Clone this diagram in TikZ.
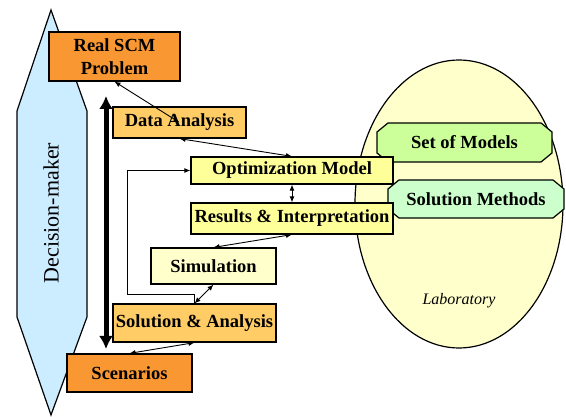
\documentclass[tikz,border=0pt]{standalone}
\usepackage{fontspec}
\setmainfont{Liberation Serif}
\usetikzlibrary{arrows.meta}
\definecolor{SCMorange}{RGB}{249,152,51}
\definecolor{SCMlorange}{RGB}{255,204,102}
\definecolor{SCMyellow}{RGB}{255,255,153}
\definecolor{SCMpale}{RGB}{255,255,204}
\definecolor{SCMblue}{RGB}{204,236,255}
\definecolor{SCMgreen}{RGB}{204,255,153}
\definecolor{SCMlgreen}{RGB}{204,255,204}
\tikzstyle{SCMbox}=[draw=black, line width=1.2pt, inner sep=0pt, align=center,
    font=\fontsize{18.5}{23}\selectfont\bfseries]
\tikzstyle{SCMshape}=[draw=black, line width=1.2pt]
\tikzstyle{SCMlink}=[{Latex[length=6pt,width=5pt]}-{Latex[length=6pt,width=5pt]}, line width=0.9pt]

\begin{document}
\begin{tikzpicture}[x=1pt, y=-1pt]
    \useasboundingbox (0,0) rectangle (566,417);
    % the decision-maker beside the whole process
    \path [SCMshape, fill=SCMblue]
        (51,10) -- (87,111) -- (87,317) -- (51,415) -- (17,317) -- (17,111) -- cycle;
    \node (dm) [rotate=90, font=\fontsize{22}{24}\selectfont] at (51,213) {Decision-maker};
    % laboratory with its tools
    \path [SCMshape, fill=SCMpale] (459,204) ellipse [x radius=104pt, y radius=144pt];
    \node (lab) [font=\fontsize{16}{18}\selectfont\itshape] at (459,301) {Laboratory};
    \path [SCMshape, fill=SCMgreen]
        (388,123) -- (541,123) -- (552,132) -- (552,153) -- (541,162)
        -- (388,162) -- (377,153) -- (377,132) -- cycle;
    \node (models) [SCMbox, draw=none] at (464.5,142.5) {Set of Models};
    \path [SCMshape, fill=SCMlgreen]
        (399,180) -- (553,180) -- (564,189) -- (564,209) -- (553,218)
        -- (399,218) -- (388,209) -- (388,189) -- cycle;
    \node (methods) [SCMbox, draw=none] at (476,199) {Solution Methods};
    % process steps
    \node (prob) [SCMbox, fill=SCMorange, minimum width=131pt, minimum height=49pt] at (114.5,56.5) {Real SCM\\Problem};
    \node (data) [SCMbox, fill=SCMlorange, minimum width=133pt, minimum height=31pt] at (179.5,122.5) {Data Analysis};
    \node (optim) [SCMbox, fill=SCMyellow, minimum width=202pt, minimum height=27pt] at (292,170.5) {Optimization Model};
    \node (results) [SCMbox, fill=SCMyellow, minimum width=202pt, minimum height=31pt] at (292,218.5) {Results \& Interpretation};
    \node (sim) [SCMbox, fill=SCMpale, minimum width=125pt, minimum height=36pt] at (213.5,266) {Simulation};
    \node (sol) [SCMbox, fill=SCMlorange, minimum width=163pt, minimum height=38pt] at (194.5,323) {Solution \& Analysis};
    \node (scen) [SCMbox, fill=SCMorange, minimum width=125pt, minimum height=38pt] at (129.5,373) {Scenarios};
    % links between steps
    \draw [SCMlink] (prob.south) -- (data.center);
    \draw [SCMlink] (data.south) -- (optim.north);
    \draw [SCMlink] (optim.south) -- (results.north);
    \draw [SCMlink] (results.south) -- (sim.north);
    \draw [SCMlink] (sim.south) -- (sol.north);
    \draw [SCMlink] (sol.south) -- (scen.north);
    % feedback loop back to the model
    \coordinate (fb) at (127,294);
    \draw [-{Latex[length=6pt,width=5pt]}, line width=0.9pt] (sol.north) |- (fb) |- (optim.west);
    % thick arrow along the steps
    \coordinate (up) at (106,96);
    \coordinate (down) at (106,349);
    \draw [{Latex[length=13pt,width=14pt]}-{Latex[length=13pt,width=14pt]}, line width=5pt] (up) -- (down);
\end{tikzpicture}
\end{document}
